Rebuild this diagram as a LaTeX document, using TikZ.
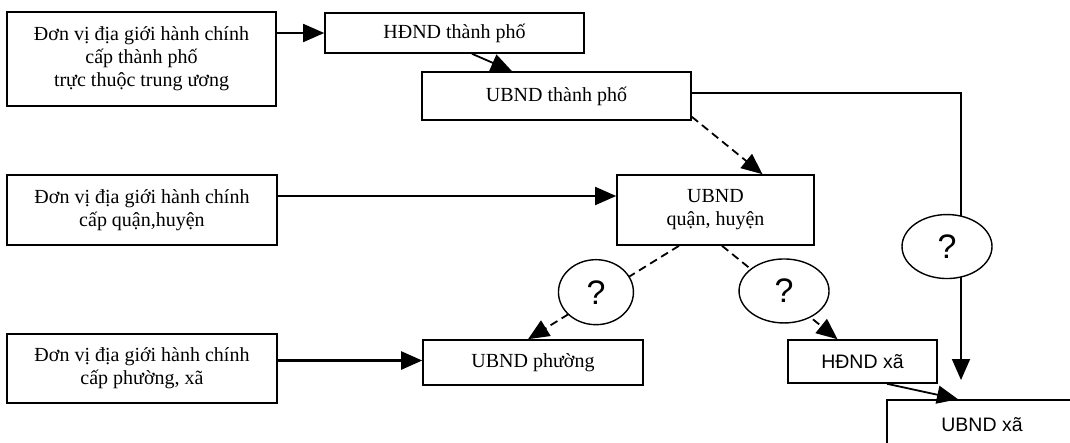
\documentclass[tikz,border=0pt]{standalone}
\usepackage{fontspec}
\setmainfont{Liberation Serif}
\newfontfamily\sansf{Liberation Sans}
\usetikzlibrary{arrows.meta,shapes.geometric}
\begin{document}
\begin{tikzpicture}[x=1pt,y=-1pt,
  box/.style={draw,line width=1.6pt,rectangle,inner sep=0pt,align=center,fill=white,
    font=\fontsize{20}{23}\selectfont},
  sbox/.style={box,font=\sansf\fontsize{19.5}{23}\selectfont},
  qnode/.style={draw,solid,line width=1.4pt,ellipse,minimum width=90pt,minimum height=64pt,
    inner sep=0pt,fill=white,font=\sansf\fontsize{34}{34}\selectfont},
  conn/.style={line width=1.8pt},
  arr/.style={conn,-{Triangle[length=21pt,width=18pt]}},
  dasharr/.style={arr,dash pattern=on 8pt off 5pt},
]
\useasboundingbox[fill=white] (0,0) rectangle (1070,442);
\clip (0,0) rectangle (1070,442);

% boxes
\node[box,minimum width=269pt,minimum height=94pt] (A) at (141.5,59)
  {Đơn vị địa giới hành chính\\cấp thành phố\\trực thuộc trung ương};
\node[box,minimum width=259pt,minimum height=40pt] (HDtp) at (454.5,33) {HĐND thành phố};
\node[box,minimum width=269pt,minimum height=48pt] (UBtp) at (556.5,96) {UBND thành phố};
\node[box,minimum width=197pt,minimum height=70pt] (UBq) at (715.5,210) {UBND\\quận, huyện};
\node[box,minimum width=270pt,minimum height=70pt] (B) at (142,210)
  {Đơn vị địa giới hành chính\\cấp quận,huyện};
\node[box,minimum width=270pt,minimum height=69pt] (C) at (142,368.5)
  {Đơn vị địa giới hành chính\\cấp phường, xã};
\node[box,minimum width=220pt,minimum height=45pt] (UBph) at (533,362.5) {UBND phường};
\node[sbox,minimum width=149pt,minimum height=43pt] (HDxa) at (862.5,361.5) {HĐND xã};
\node[sbox,minimum width=190pt,minimum height=50pt] (UBxa) at (982,425) {UBND xã};

\coordinate (turn) at (961,93);
\coordinate (tipR) at (961,380);

% connectors
\draw[arr] (A.east |- HDtp.west) -- (HDtp.west);
\draw[arr] ([xshift=17.5pt]HDtp.south) -- ([xshift=-44.5pt]UBtp.north);
\draw[arr] ([yshift=3pt]UBtp.east) -- (turn) -- node[qnode,pos=0.535,xshift=-14pt] (qR) {?} (tipR);
\draw[dasharr] ([yshift=4pt]UBtp.south east) -- ([xshift=47pt]UBq.north);
\draw[arr] ([yshift=14pt]B.east) -- ([yshift=14pt]B.east -| UBq.west);
\draw[arr,line width=2.4pt] ([yshift=8pt]C.east) -- ([yshift=8pt]C.east -| UBph.west);
\draw[dasharr] ([xshift=-36.5pt]UBq.south) -- node[qnode,pos=0.55,yshift=5pt,minimum width=75pt,minimum height=65pt] (qL) {?} ([xshift=-5pt]UBph.north);
\draw[dasharr] ([xshift=6.5pt]UBq.south) -- node[qnode,pos=0.537,yshift=5pt] (qM) {?} ([xshift=-25pt]HDxa.north);
\draw[arr] ([xshift=24.5pt]HDxa.south) -- ([xshift=-24pt]UBxa.north);
\end{tikzpicture}
\end{document}
